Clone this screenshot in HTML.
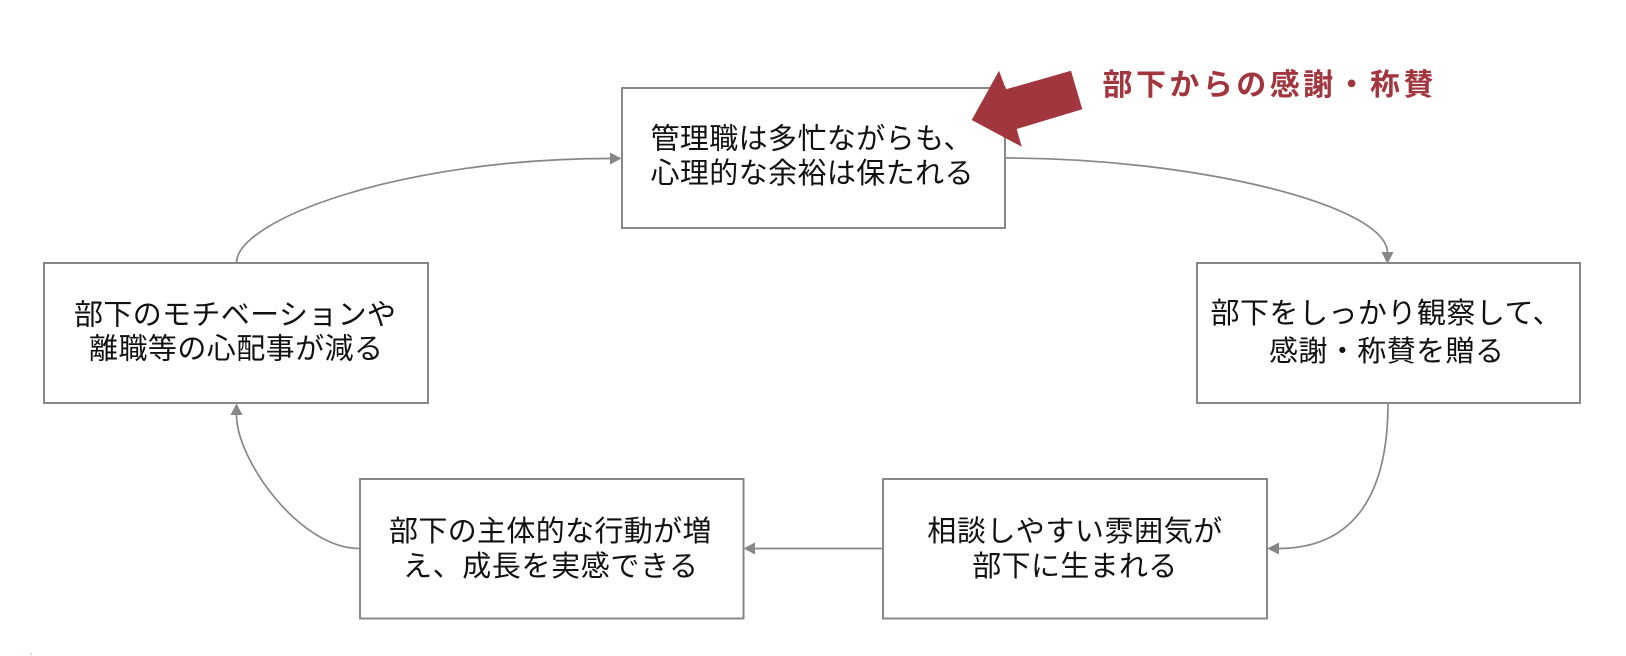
<!DOCTYPE html>
<html>
<head>
<meta charset="utf-8">
<style>
  html,body{margin:0;padding:0;background:#fff;}
  body{width:1626px;height:656px;overflow:hidden;}
  svg{display:block;}
  text{font-family:"Liberation Sans","Noto Sans CJK JP",sans-serif;fill:#111;}
</style>
</head>
<body>
<svg width="1626" height="656" viewBox="0 0 1626 656" xmlns="http://www.w3.org/2000/svg">
  <rect x="0" y="0" width="1626" height="656" fill="#fff"/>

  <!-- connectors -->
  <g fill="none" stroke="#878787" stroke-width="1.7">
    <path d="M1005,158 C1195,158 1387.5,205 1387.5,253"/>
    <path d="M1388,403 C1388,500 1350,548.5 1278,548.5"/>
    <path d="M882,548.5 L755,548.5"/>
    <path d="M359,548.5 C300,548.5 236.5,460 236.5,415"/>
    <path d="M236.5,263 C236.5,220 400,158.5 610,158.5"/>
  </g>
  <g fill="#878787">
    <polygon points="1381.5,252 1393.5,252 1387.5,264"/>
    <polygon points="1279,542.5 1279,554.5 1267,548.5"/>
    <polygon points="755,542.5 755,554.5 743.5,548.5"/>
    <polygon points="230.5,415 242.5,415 236.5,403.5"/>
    <polygon points="610,152.5 610,164.5 621.5,158.5"/>
  </g>

  <!-- boxes -->
  <g fill="#fff" stroke="#888" stroke-width="2">
    <rect x="622" y="88" width="383" height="140"/>
    <rect x="44" y="263" width="384" height="140"/>
    <rect x="1197" y="263" width="383" height="140"/>
    <rect x="360" y="479" width="383.5" height="139.5"/>
    <rect x="883" y="479" width="384" height="139.5"/>
  </g>

  <!-- box texts -->
  <g font-size="29">
    <text x="650.5" y="148.5" textLength="322" lengthAdjust="spacing">管理職は多忙ながらも、</text>
    <text x="650.5" y="183" textLength="323" lengthAdjust="spacing">心理的な余裕は保たれる</text>

    <text x="74" y="324.5" textLength="322" lengthAdjust="spacing">部下のモチベーションや</text>
    <text x="89" y="358.5" textLength="294" lengthAdjust="spacing">離職等の心配事が減る</text>

    <text x="1210.5" y="323" textLength="351" lengthAdjust="spacing">部下をしっかり観察して、</text>
    <text x="1269" y="361" textLength="235" lengthAdjust="spacing">感謝・称賛を贈る</text>

    <text x="389" y="541" textLength="322.5" lengthAdjust="spacing">部下の主体的な行動が増</text>
    <text x="403" y="576" textLength="295" lengthAdjust="spacing">え、成長を実感できる</text>

    <text x="927.3" y="541" textLength="295" lengthAdjust="spacing">相談しやすい雰囲気が</text>
    <text x="972.3" y="576" textLength="205" lengthAdjust="spacing">部下に生まれる</text>
  </g>

  <!-- red callout arrow -->
  <polygon points="971.7,120 999,70.7 1006,89.3 1071,70.7 1082.3,109.3 1016.7,129 1021.7,146.7" fill="#A2363F"/>
  <text x="1102.5" y="95" font-size="30" font-weight="bold" style="fill:#A2363F" textLength="331" lengthAdjust="spacing">部下からの感謝・称賛</text>

  <circle cx="31" cy="654" r="1" fill="#b8c8e8"/>
</svg>
</body>
</html>
